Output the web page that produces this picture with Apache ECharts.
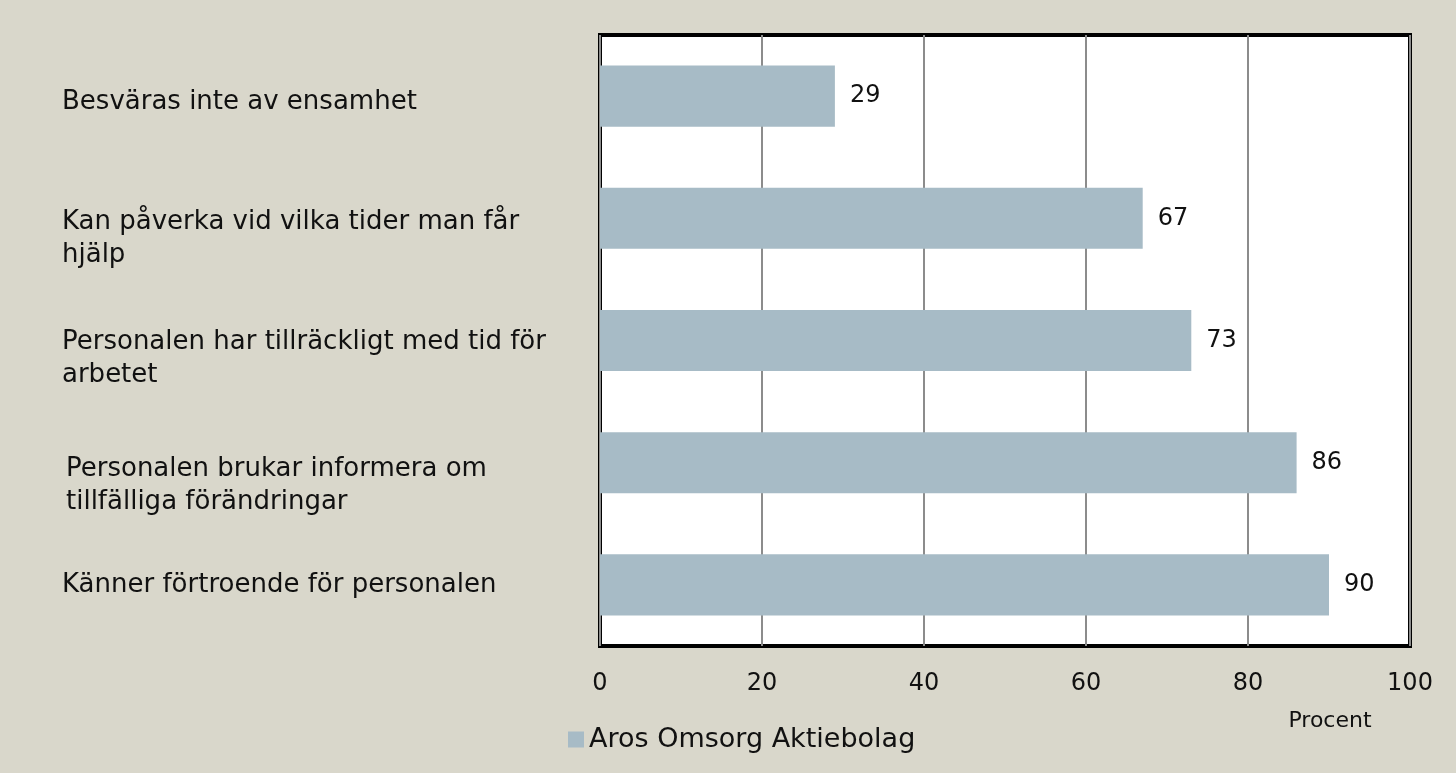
<!DOCTYPE html>
<html><head><meta charset="utf-8">
<script src="https://cdn.jsdelivr.net/npm/echarts@6/dist/echarts.min.js"></script>
<style>html,body{margin:0;padding:0;background:#d9d7cb}#c{width:1456px;height:773px}</style>
</head><body><div id="c"></div>
<script>
const categories = [
  "Besväras inte av ensamhet",
  "Kan påverka vid vilka tider man får\nhjälp",
  "Personalen har tillräckligt med tid för\narbetet",
  "Personalen brukar informera om\ntillfälliga förändringar",
  "Känner förtroende för personalen"
];
const values = [29, 67, 73, 86, 90];
const seriesName = "Aros Omsorg Aktiebolag";
const axisName = "Procent";

const FONT = "'DejaVu Sans', sans-serif";
// vertical spacer heights (px) and left indents, layout only
const spacers = [12, 40, 37, 46, 0];
const indents = [0, 0, 0, 4, 0];
const rich = {};
spacers.forEach((h, i) => {
  rich['s' + i] = {height: h, lineHeight: h, fontSize: 1};
  rich['t' + i] = {fontSize: 26, lineHeight: 33, color: '#111', fontFamily: FONT, padding: [0, 0, 0, indents[i]]};
});

const chart = echarts.init(document.getElementById('c'));
chart.setOption({
  backgroundColor: '#d9d7cb',
  textStyle: {fontFamily: FONT},
  grid: {left: 600, right: 46, top: 35, bottom: 127, show: true, backgroundColor: '#ffffff', borderColor: '#000000', borderWidth: 4, containLabel: false, outerBoundsMode: 'none'},
  legend: {
    left: 563, top: 721, icon: 'rect', itemWidth: 16, itemHeight: 16, itemGap: 6,
    textStyle: {fontSize: 27, color: '#111', fontFamily: FONT},
    data: [seriesName]
  },
  xAxis: {
    type: 'value', min: 0, max: 100, interval: 20,
    name: axisName, nameLocation: 'end', nameGap: -80,
    nameTextStyle: {fontSize: 22, color: '#111', padding: [64, 0, 0, 0], align: 'center', verticalAlign: 'top'},
    axisLine: {show: false}, axisTick: {show: false},
    axisLabel: {fontSize: 24, color: '#111', margin: 26},
    splitLine: {lineStyle: {color: '#8c8c8c', width: 2}}
  },
  yAxis: {
    type: 'category', inverse: true, data: categories,
    axisLine: {show: false}, axisTick: {show: false},
    axisLabel: {
      margin: 538, align: 'left', fontSize: 26, lineHeight: 33, color: '#111', fontFamily: FONT,
      formatter: (v, i) => (spacers[i] ? '{s' + i + '| }\n' : '') + '{t' + i + '|' + v + '}',
      rich: rich
    }
  },
  series: [{
    name: seriesName, type: 'bar', data: values, barWidth: '50%',
    itemStyle: {color: '#a7bbc6'},
    label: {show: true, position: 'right', distance: 15, fontSize: 24, color: '#111'}
  }]
});
</script></body></html>
